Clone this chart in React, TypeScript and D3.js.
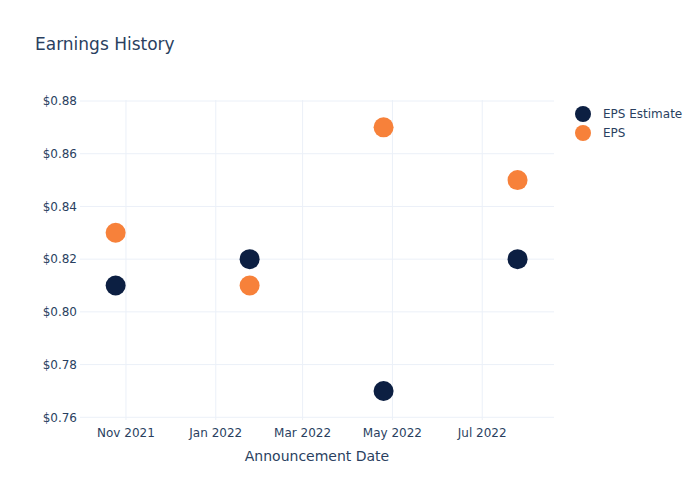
import React from "react";
import * as d3 from "d3";

const dates = ["2021-10-25", "2022-01-24", "2022-04-25", "2022-07-25"];
const epsEstimate = [0.81, 0.82, 0.77, 0.82];
const eps = [0.83, 0.81, 0.87, 0.85];
const yTicks = [0.76, 0.78, 0.8, 0.82, 0.84, 0.86, 0.88];
const xTicks = ["2021-11-01", "2022-01-01", "2022-03-01", "2022-05-01", "2022-07-01"];
const seriesNames = ["EPS Estimate", "EPS"];
const colors = ["#0c1f42", "#f7813a"];

const W = 700, H = 500;
const L = 80, R = 554, T = 100, B = 420;
const font = "'DejaVu Sans', Verdana, sans-serif";
const txt = "#2a3f5f";

export default function App() {
  const parse = d3.utcParse("%Y-%m-%d");
  const x = d3
    .scaleUtc()
    .domain([new Date(Date.UTC(2021, 8, 30, 19)), new Date(Date.UTC(2022, 7, 18, 18))])
    .range([L, R]);
  const y = d3.scaleLinear().domain([0.75898, 0.88038]).range([B, T]);
  const fmt = d3.utcFormat("%b %Y");
  const series = [epsEstimate, eps];

  return (
    <svg width={W} height={H} style={{ position: "absolute", left: 0, top: 0 }} fontFamily={font}>
      <rect x={0} y={0} width={W} height={H} fill="#fff" />
      {yTicks.map((t) => (
        <line key={"gy" + t} x1={L} x2={R} y1={y(t)} y2={y(t)} stroke="#ebf0f8" strokeWidth={1} />
      ))}
      {xTicks.map((t) => (
        <line key={"gx" + t} x1={x(parse(t)!)} x2={x(parse(t)!)} y1={T} y2={B} stroke="#ebf0f8" strokeWidth={1} />
      ))}
      {yTicks.map((t) => (
        <text key={"ly" + t} x={L - 3} y={y(t)} dy="0.35em" textAnchor="end" fontSize={12} fill={txt}>
          {"$" + d3.format(".2f")(t)}
        </text>
      ))}
      {xTicks.map((t) => (
        <text key={"lx" + t} x={x(parse(t)!)} y={B + 13} dy="0.35em" textAnchor="middle" fontSize={12} fill={txt}>
          {fmt(parse(t)!)}
        </text>
      ))}
      <text x={(L + R) / 2} y={461} textAnchor="middle" fontSize={14} fill={txt}>
        Announcement Date
      </text>
      <text x={35} y={50} fontSize={17} fill={txt}>
        Earnings History
      </text>
      {series.map((s, si) =>
        s.map((v, i) => (
          <circle key={si + "-" + i} cx={x(parse(dates[i])!)} cy={y(v)} r={10} fill={colors[si]} />
        ))
      )}
      {seriesNames.map((n, i) => (
        <g key={n} transform={`translate(583, ${114 + i * 19})`}>
          <circle cx={0} cy={0} r={8} fill={colors[i]} />
          <text x={20} y={0} dy="0.35em" fontSize={12} fill={txt}>
            {n}
          </text>
        </g>
      ))}
    </svg>
  );
}
